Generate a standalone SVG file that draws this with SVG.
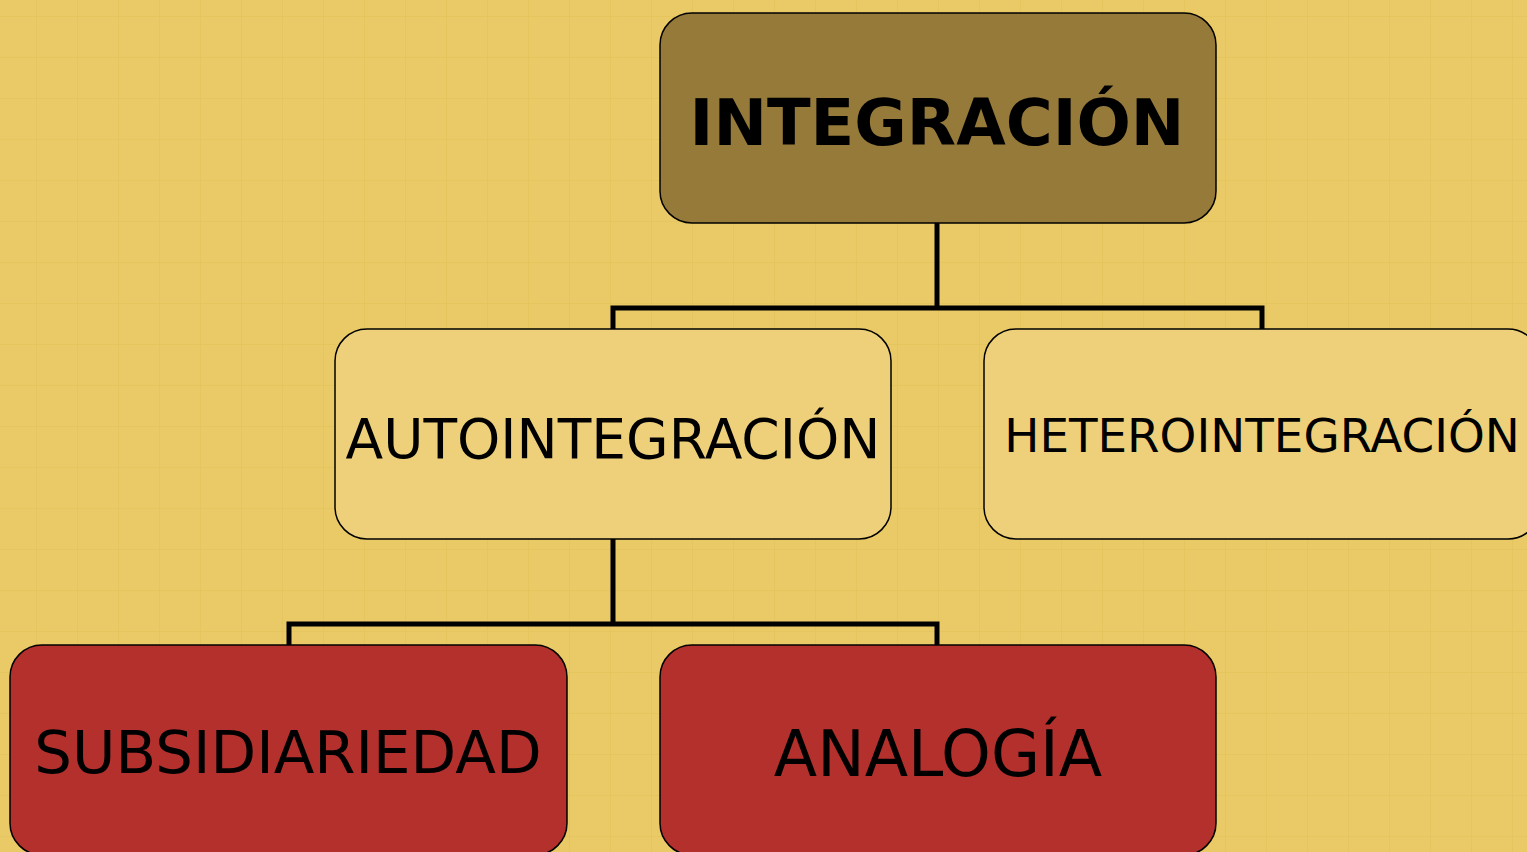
<svg xmlns="http://www.w3.org/2000/svg" width="1527" height="852" viewBox="0 0 1527 852">
<defs>
<pattern id="grid" x="-4" y="-24" width="41" height="41" patternUnits="userSpaceOnUse">
<rect x="40" y="0" width="2" height="41" fill="#e4c45d" opacity="0.8"/>
<rect x="0" y="40" width="41" height="2" fill="#e4c45d" opacity="0.8"/>
</pattern>
</defs>
<style>
.box{stroke:#000;stroke-width:1.5}
.l0{fill:#967a3a}
.l1{fill:#eed07a}
.l2{fill:#b3302d}
text{font-family:"DejaVu Sans",Verdana,sans-serif;fill:#000;text-anchor:middle}
.conn{fill:none;stroke:#000;stroke-width:5}
</style>
<rect width="1527" height="852" fill="#e9ca66"/>
<rect width="1527" height="852" fill="url(#grid)"/>
<g id="connectors">
<path class="conn" d="M937,223 V308 M613,329 V308 H1262 V329"/>
<path class="conn" d="M613,539 V624 M289,645 V624 H937 V645"/>
</g>
<g id="n-integracion">
<rect class="box l0" x="660" y="13" width="556" height="210" rx="32"/>
<text x="937" y="145" font-size="64" font-weight="bold">INTEGRACIÓN</text>
</g>
<g id="n-autointegracion">
<rect class="box l1" x="335" y="329" width="556" height="210" rx="32"/>
<text x="613" y="458" font-size="55">AUTOINTEGRACIÓN</text>
</g>
<g id="n-heterointegracion">
<rect class="box l1" x="984" y="329" width="556" height="210" rx="32"/>
<text x="1262" y="452" font-size="46.8">HETEROINTEGRACIÓN</text>
</g>
<g id="n-subsidiariedad">
<rect class="box l2" x="10" y="645" width="557" height="210" rx="32"/>
<text x="288" y="773" font-size="59.4">SUBSIDIARIEDAD</text>
</g>
<g id="n-analogia">
<rect class="box l2" x="660" y="645" width="556" height="210" rx="32"/>
<text x="938" y="776" font-size="63.4">ANALOGÍA</text>
</g>
</svg>
